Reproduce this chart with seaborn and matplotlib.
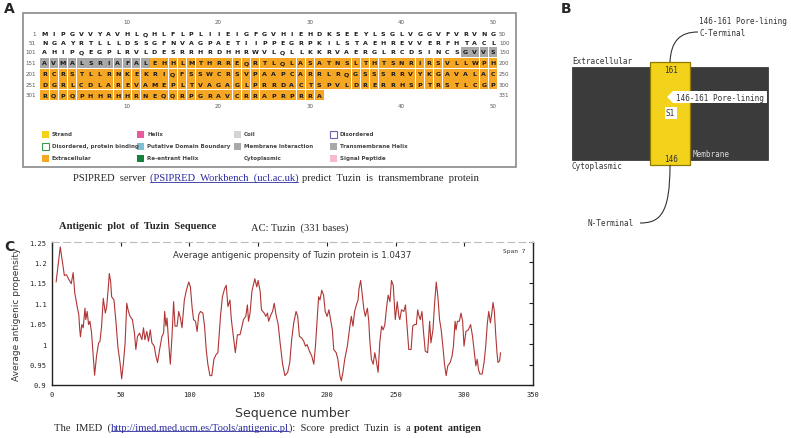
import numpy as np
import pandas as pd
import seaborn as sns
import matplotlib.pyplot as plt
from matplotlib.patches import Rectangle, Polygon, PathPatch
from matplotlib.path import Path

##PANEL A - PSIPRED SEQUENCE
seq_rows = [
    "MIPGVVYAVHLQHLFLPLIIEIGFGVHIEHDKSEEYLSGLVGGVFVRVNG",
    "NGAYRTLLLDSSGFNVAGPAETIIPPEGRPKILSTAEHREVVERFHTACL",
    "AHIPQEGPLRVLDESRRHRDHHRWVLQLLKKRVAERGLRCDSINCSGVVS",
    "AVMALSRIAFALEHHLMTHRREQRTLQLASATNSLTHTSNRIRSVLLWPH",
    "RCRSTLLRNKEKRIQFSSWCRSVPAAPCARRLRQGSSSRRVYKGAVALAC",
    "DGRLCDLAREVAMEPLTVAGAGLPRRDACTSPVLDRERRHSPTRSTLCGP",
    "RQPQPHHRHHRNEQQRPGRAVCRRAPRPRRA",
]
row_start = [1, 51, 101, 151, 201, 251, 301]
row_end = [50, 100, 150, 200, 250, 300, 331]
col_ticks = [10, 20, 30, 40, 50]
tm_range = [147, 162]
extra_range = [163, 331]

legend_names = [["Strand", "Helix", "Coil", "Disordered"],
                ["Disordered, protein binding", "Putative Domain Boundary", "Membrane Interaction", "Transmembrane Helix"],
                ["Extracellular", "Re-entrant Helix", "Cytoplasmic", "Signal Peptide"]]
legend_fill = [["#f7d117", "#e85c9c", "#d4d4d4", "white"],
               ["white", "#7fbfd6", "#a9a9a9", "#a9a9a9"],
               ["#f5a623", "#17803d", None, "#f7bccb"]]
legend_edge = [[None, None, None, "#6f63b0"],
               ["#3a9a4a", None, None, None],
               [None, None, None, None]]

##PANEL B - TOPOLOGY
tm_start = 146
tm_end = 161
segment_name = "S1"

##PANEL C - ANTIGENIC PLOT
seq_pos = [3, 6, 9, 10.5, 12, 14, 15.4, 16.6, 17.3, 18.3, 19.5, 20.2, 20.7, 21.7, 22.7, 24, 24.6, 25.6,
           26.6, 27.6, 28.8, 30, 31, 32.4, 33.9, 34.9, 36.1, 37.3, 38.8, 39.8, 41, 41.7, 42.7, 43.4, 45.1,
           46.6, 48, 49.5, 50.7, 52, 53.2, 54.4, 55.6, 56.8, 58.5, 60, 61, 62.2, 63.7, 65.4, 66.6, 67.6,
           69, 70.2, 71.5, 72.7, 74.4, 75.6, 76.8, 78.3, 80, 81.2, 82, 82.9, 83.7, 84.9, 86.1, 87.3, 88.5,
           89.5, 91, 92.2, 93.4, 94.6, 96.3, 97.8, 99.5, 100.7, 102, 103, 104.4, 105.6, 106.8, 108, 109.8,
           111, 112.2, 113.4, 114.9, 116.3, 117.8, 119.5, 120.7, 122.7, 124, 125.6, 126.8, 128, 129.5,
           130.5, 132, 133.4, 134.9, 136.8, 138.3, 139.3, 141, 142.2, 143, 144.1, 145.5, 147.6, 149, 150,
           151.5, 152.4, 154.4, 155.6, 156.8, 157.6, 159.3, 160.5, 161.7, 163, 164.6, 166, 167.8, 169.5,
           171.5, 173, 174.4, 175.9, 177.6, 178.8, 180, 181.7, 183.2, 184.4, 185.6, 187.3, 189, 190.5,
           191.7, 193, 194, 195, 196.3, 197.6, 198.8, 200.2, 201.5, 202.7, 204, 205, 206.8, 208, 209.5,
           210.5, 211.7, 213, 214.9, 216.6, 217.8, 219, 220.2, 221.5, 222.7, 223.4, 224.6, 225.9, 227,
           228, 229.5, 230.5, 231.2, 232.4, 233.7, 234.9, 236, 237.3, 238.5, 239.8, 241, 242.2, 243.4,
           244.6, 245.9, 247, 248.3, 249.8, 251.2, 252.4, 253.1, 254.3, 256, 257.2, 258.4, 259.6, 261.3,
           262.5, 263.7, 265.1, 266.1, 266.8, 268, 269.2, 270.4, 271.6, 273.3, 274.8, 275.7, 277.2,
           278.4, 279.6, 280.8, 282, 283.2, 284.4, 285.6, 286.8, 288, 289.7, 291.1, 292.1, 293.3, 294,
           295, 296.4, 297.6, 298.8, 299.8, 301.2, 302.9, 304.6, 306, 307.2, 308.4, 309.4, 310.3, 311.3,
           313, 314.4, 315.6, 316.8, 317.8, 319, 320.2, 320.9, 321.9, 322.8, 323.8, 324.5, 325.7, 326.4]
propensity = [1.152, 1.238, 1.168, 1.17, 1.16, 1.148, 1.175, 1.124, 1.112, 1.092, 1.072, 1.035, 1.018,
              1.048, 1.04, 1.088, 1.06, 1.08, 1.048, 1.056, 1.027, 0.971, 0.924, 0.971, 1.003, 1.007,
              1.044, 1.112, 1.076, 1.092, 1.14, 1.173, 1.152, 1.116, 1.108, 1.052, 0.991, 0.955, 0.915,
              0.955, 1.003, 1.1, 1.08, 1.068, 1.06, 1.027, 0.987, 1.019, 1.027, 1.011, 1.04, 1.011, 1.031,
              1.007, 1.035, 1.003, 0.995, 0.971, 0.955, 0.987, 1.019, 1.027, 1.08, 1.044, 1.064, 1.003,
              0.951, 1.019, 1.104, 1.044, 1.044, 1.08, 1.064, 1.04, 1.108, 1.132, 1.152, 1.14, 1.088, 1.06,
              1.056, 1.031, 1.072, 1.08, 1.076, 1.044, 0.987, 0.951, 0.923, 0.923, 0.963, 0.975, 0.979,
              1.072, 1.116, 1.136, 1.144, 1.092, 1.108, 1.06, 1.019, 0.979, 1.023, 1.023, 1.044, 1.06,
              1.068, 1.096, 1.056, 1.076, 1.13, 1.16, 1.14, 1.156, 1.128, 1.084, 1.076, 1.068, 1.076,
              1.056, 1.072, 1.08, 1.1, 1.072, 1.048, 1.003, 0.951, 0.923, 0.931, 0.955, 1.011, 1.052, 1.08,
              1.068, 1.019, 1.015, 1.007, 0.995, 0.999, 0.983, 0.971, 0.951, 0.995, 1.064, 1.116, 1.108,
              1.132, 1.12, 1.08, 1.068, 1.084, 1.06, 1.035, 0.987, 0.979, 0.963, 0.923, 0.91, 0.931, 0.963,
              0.995, 1.04, 1.068, 1.044, 1.08, 1.096, 1.108, 1.136, 1.156, 1.116, 1.084, 1.068, 1.088,
              1.056, 1.011, 0.963, 0.951, 0.979, 0.959, 0.931, 1.003, 1.044, 1.035, 1.048, 1.088, 1.12,
              1.104, 1.156, 1.144, 1.06, 1.104, 1.068, 1.06, 1.084, 1.08, 1.096, 1.04, 0.987, 0.987, 1.044,
              1.048, 1.048, 1.084, 1.072, 1.06, 1.08, 1.027, 0.983, 0.979, 1.056, 1.003, 1.035, 1.1, 1.152,
              1.116, 1.06, 1.035, 0.995, 0.951, 0.923, 0.947, 0.955, 0.971, 0.995, 1.056, 1.035, 1.056,
              1.056, 1.076, 1.056, 0.995, 1.031, 1.035, 1.048, 1.019, 0.983, 0.947, 0.963, 0.939, 0.927,
              0.927, 0.955, 0.995, 1.052, 1.08, 1.052, 1.08, 1.102, 1.08, 1.027, 0.979, 0.955, 0.959, 0.979]
avg_prop = 1.0437
span = 7
x_ticks = [0, 50, 100, 150, 200, 250, 300, 350]
y_ticks = [0.9, 0.95, 1.0, 1.05, 1.1, 1.15, 1.2, 1.25]
y_tick_labels = ["0.9", "0.95", "1", "1.05", "1.1", "1.15", "1.2", "1.25"]

sns.set_style("white")
plt.rcParams['font.family'] = ['DejaVu Sans']

W, H = 791, 439
fig = plt.figure(figsize=(W / 100, H / 100), dpi=100)

#BACKGROUND AXES IN PIXEL COORDS
ax = fig.add_axes([0, 0, 1, 1])
ax.set_xlim(0, W)
ax.set_ylim(H, 0)
ax.axis('off')

MONO = 'DejaVu Sans Mono'
SERIF = 'Liberation Serif'
LINK = '#2a2aa0'

#PANEL LETTERS
for lbl, (lx, ly) in zip(['A', 'B', 'C'], [(4, 9), (561, 9), (4, 247)]):
    ax.text(lx, ly, lbl, fontsize=10, fontweight='bold', va='center', ha='left')

#PANEL A BOX
ax.add_patch(Rectangle((23, 14), 493, 154, fill=False, edgecolor='#8a8a8a', lw=1.2))

col_x0 = 44.7
col_dx = 9.15
row_y = [34.5, 43.5, 52.5, 63.5, 74.5, 85.3, 96.0]

for c in col_ticks:
    cx = col_x0 + (c - 1) * col_dx
    ax.text(cx, 23, str(c), fontsize=4, color='#555555', ha='center', va='center')
    ax.text(cx, 107, str(c), fontsize=4, color='#555555', ha='center', va='center')

for r, row in enumerate(seq_rows):
    y = row_y[r]
    ax.text(36, y, str(row_start[r]), fontsize=4, color='#555555', ha='right', va='center')
    ax.text(499, y, str(row_end[r]), fontsize=4, color='#555555', ha='left', va='center')
    for i, aa in enumerate(row):
        pos = row_start[r] + i
        cx = col_x0 + i * col_dx
        if tm_range[0] <= pos <= tm_range[1]:
            ax.add_patch(Rectangle((cx - 4.3, y - 5), 8.6, 10, facecolor='#a8a8a8', edgecolor='none'))
        elif extra_range[0] <= pos <= extra_range[1]:
            ax.add_patch(Rectangle((cx - 4.3, y - 5), 8.6, 10, facecolor='#f5a623', edgecolor='none'))
        ax.text(cx, y + 0.3, aa, fontsize=4.5, fontweight='bold', color='#1a1a1a', ha='center', va='center')

#LEGEND
leg_x = [42, 137, 234, 330]
leg_y = [135, 147, 159]
for r in range(3):
    for c in range(4):
        sx, sy = leg_x[c], leg_y[r]
        fc = legend_fill[r][c]
        ec = legend_edge[r][c]
        if fc is not None:
            ax.add_patch(Rectangle((sx, sy - 3.5), 7, 7, facecolor=fc,
                                   edgecolor=ec if ec else 'none', lw=0.8))
        ax.text(sx + 10, sy, legend_names[r][c], fontsize=4, fontweight='bold', color='#444444',
                ha='left', va='center')


#TEXT RUNS WITH LINK STYLE
def put_runs(x, y, runs, size):
    fig.canvas.draw()
    rend = fig.canvas.get_renderer()
    inv = ax.transData.inverted()
    for txt, style, gap in runs:
        kw = dict(fontsize=size, family=SERIF, va='baseline', ha='left')
        if style == 'link':
            kw['color'] = LINK
        elif style == 'bold':
            kw['fontweight'] = 'bold'
        t = ax.text(x, y, txt, **kw)
        bb = t.get_window_extent(renderer=rend)
        x0 = inv.transform((bb.x0, bb.y0))[0]
        x1 = inv.transform((bb.x1, bb.y0))[0]
        if style == 'link':
            ax.plot([x0, x1], [y + 1.5, y + 1.5], color=LINK, lw=0.6)
        x = x1 + gap


put_runs(73, 181, [("PSIPRED  server", None, 4), ("(PSIPRED  Workbench  (ucl.ac.uk)", 'link', 4),
                   ("predict  Tuzin  is  transmembrane  protein", None, 0)], 7.6)

#PANEL B
ax.add_patch(Rectangle((572, 68), 196, 93, facecolor='#3b3b3b', edgecolor='#2a2a2a', lw=0.5))
ax.add_patch(Rectangle((650, 63), 40, 103, facecolor='#f2d21b', edgecolor='#8f7a00', lw=0.9))
ax.text(671, 70.5, str(tm_end), fontsize=5.5, family=MONO, color='#333333', ha='center', va='center')
ax.text(671, 160, str(tm_start), fontsize=5.5, family=MONO, color='#333333', ha='center', va='center')
ax.add_patch(Rectangle((664.5, 108), 12, 12, facecolor='white', edgecolor='none'))
ax.text(670.5, 114, segment_name, fontsize=5.5, family=MONO, color='#333333', ha='center', va='center')
ax.add_patch(Polygon([(667, 98), (673, 92), (767, 92), (767, 104), (673, 104)], closed=True,
                     facecolor='white', edgecolor='none'))
ax.text(676, 98.3, f"{tm_start}-{tm_end} Pore-lining", fontsize=5.5, family=MONO, color='#333333',
        ha='left', va='center')
ax.text(572, 62, "Extracellular", fontsize=5.5, family=MONO, color='#333333', ha='left', va='center')
ax.text(572, 167, "Cytoplasmic", fontsize=5.5, family=MONO, color='#333333', ha='left', va='center')
ax.text(693, 155, "Membrane", fontsize=5.5, family=MONO, color='#dddddd', ha='left', va='center')
ax.text(699, 21, f"{tm_start}-{tm_end} Pore-lining", fontsize=5.5, family=MONO, color='#333333',
        ha='left', va='center')
ax.text(700, 33, "C-Terminal", fontsize=5.5, family=MONO, color='#333333', ha='left', va='center')
ax.text(588, 224, "N-Terminal", fontsize=5.5, family=MONO, color='#333333', ha='left', va='center')
top_curve = Path([(670, 63), (671, 42), (680, 33), (698, 33)],
                 [Path.MOVETO, Path.CURVE4, Path.CURVE4, Path.CURVE4])
bot_curve = Path([(670, 166), (670, 215), (660, 224), (640, 224)],
                 [Path.MOVETO, Path.CURVE4, Path.CURVE4, Path.CURVE4])
ax.add_patch(PathPatch(top_curve, fill=False, edgecolor='#333333', lw=0.8))
ax.add_patch(PathPatch(bot_curve, fill=False, edgecolor='#333333', lw=0.8))

#PANEL C TITLES
ax.text(59, 229, "Antigenic  plot  of  Tuzin  Sequence", fontsize=7.6, family=SERIF, fontweight='bold',
        ha='left', va='baseline')
ax.text(251, 231, "AC: Tuzin  (331 bases)", fontsize=7.6, family=SERIF, ha='left', va='baseline')

put_runs(54, 431, [("The  IMED  (", None, 0), ("http://imed.med.ucm.es/Tools/antigenic.pl", 'link', 0),
                   ("):  Score  predict  Tuzin  is  a", None, 3), ("potent  antigen", 'bold', 0)], 7.6)

#PANEL C PLOT
axc = fig.add_axes([52 / W, 1 - 386 / H, 481 / W, 143 / H])
df = pd.DataFrame({'pos': seq_pos, 'prop': propensity})
sns.lineplot(data=df, x='pos', y='prop', ax=axc, color='#b03535', lw=0.8)
axc.set_xlim(0, 350)
axc.set_ylim(0.9, 1.25)
axc.set_xticks(x_ticks)
axc.set_xticklabels([str(t) for t in x_ticks], family=MONO, fontsize=5)
axc.set_yticks(y_ticks)
axc.set_yticklabels(y_tick_labels, family=MONO, fontsize=5)
axc.tick_params(direction='in', length=3, width=0.8, top=True, right=True, pad=4, colors='#222222')
axc.set_xlabel("Sequence number", fontsize=9, color='#333333', labelpad=7)
axc.set_ylabel("Average antigenic propensity", fontsize=6.5, color='#333333', labelpad=6)
for s in ['left', 'bottom', 'right']:
    axc.spines[s].set_color('#222222')
    axc.spines[s].set_linewidth(1.0)
axc.spines['top'].set_color('#bbbbbb')
axc.spines['top'].set_linestyle((0, (6, 4)))
axc.spines['top'].set_linewidth(0.8)
axc.text(0.5, 0.91, f"Average antigenic propensity of Tuzin protein is {avg_prop}", transform=axc.transAxes,
         fontsize=6.2, color='#333333', ha='center', va='center')
axc.text(0.985, 0.94, f"Span {span}", transform=axc.transAxes, family=MONO, fontsize=4.5,
         color='#333333', ha='right', va='center')

fig.savefig('out.png', dpi=100)
